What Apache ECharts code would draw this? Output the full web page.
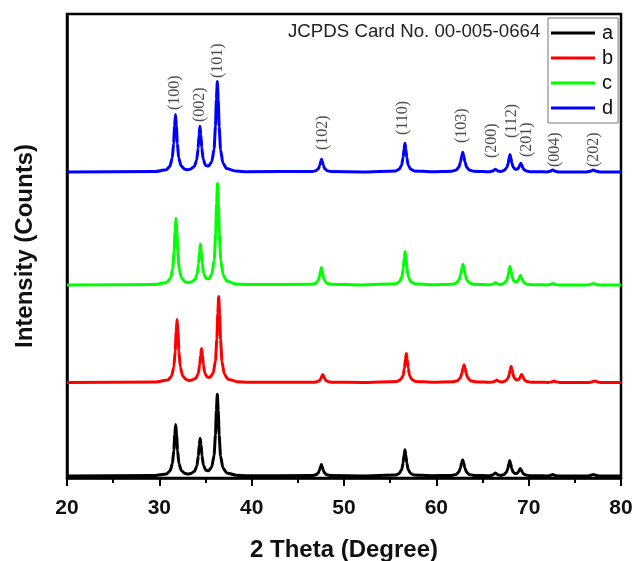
<!DOCTYPE html>
<html>
<head>
<meta charset="utf-8">
<title>XRD patterns</title>
<script src="https://cdn.jsdelivr.net/npm/echarts@6/dist/echarts.min.js"></script>
<style>
  html, body { margin: 0; padding: 0; background: #fff; }
  #chart { width: 636px; height: 561px; }
</style>
</head>
<body>
<div id="chart"></div>
<script>
// Sample names shown in the legend
const sampleNames = ['a', 'b', 'c', 'd'];
const sampleColors = ['#000000', '#ff0000', '#00ff00', '#0000ff'];

// Vertical offsets used to stack the four patterns (a.u.)
const stackOffsets = [0, 93.5, 191, 304];

// Measured profiles: [2θ (degree), intensity (a.u.)]
const profileA = [
  [20, 2], [29.5, 2.5],
  [30.77, 4.0], [31.17, 7.2], [31.42, 14.7], [31.57, 27.8], [31.67, 43.2], [31.77, 53.5], [31.87, 43.2], [31.97, 27.8], [32.12, 14.7], [32.37, 7.5], [32.77, 4.5],
  [33.1, 3.9],
  [33.42, 4.5], [33.82, 6.8], [34.07, 12.2], [34.22, 21.8], [34.32, 33], [34.42, 39.8], [34.52, 33.4], [34.62, 22.2], [34.77, 13], [35.02, 7.8],
  [35.35, 7.3],
  [35.68, 11.1], [35.93, 22.7], [36.08, 43.4], [36.18, 67.8], [36.28, 83.8], [36.38, 67.4], [36.48, 42.9], [36.63, 22.1], [36.88, 10.2], [37.28, 5.1], [38.3, 2.8], [39.5, 2.3],
  [46.55, 2.4], [46.95, 3.2], [47.2, 4.8], [47.35, 7.8], [47.45, 11.2], [47.55, 13.5], [47.65, 11.2], [47.75, 7.8], [47.9, 4.8], [48.15, 3.2], [48.55, 2.4],
  [52, 2.1],
  [55.6, 3.0], [56.0, 4.6], [56.25, 8.5], [56.4, 15.1], [56.5, 23], [56.6, 28.2], [56.7, 23], [56.8, 15.1], [56.95, 8.5], [57.2, 4.6], [57.6, 3.0],
  [59.5, 2.3],
  [61.65, 2.6], [62.15, 3.6], [62.43, 6.0], [62.61, 10.1], [62.73, 15], [62.85, 18.2], [62.97, 15], [63.09, 10.1], [63.27, 6.0], [63.55, 3.6], [64.05, 2.6],
  [65.0, 2.4],
  [65.8, 2.3], [66.15, 3.2], [66.28, 4.2], [66.4, 5], [66.52, 4.2], [66.65, 3.2], [67.0, 2.5],
  [67.35, 3.6], [67.6, 5.9], [67.75, 9.7], [67.85, 14.3], [67.95, 17.4], [68.05, 14.5], [68.15, 9.9], [68.3, 6.1], [68.52, 4.4],
  [68.75, 4.7], [68.9, 6.2], [69.0, 8.3], [69.1, 9.6], [69.2, 8.1], [69.3, 5.9], [69.45, 4.0], [69.7, 2.9], [70.1, 2.3],
  [71.0, 2.2],
  [72.0, 2.1], [72.35, 2.6], [72.6, 3.5], [72.85, 2.6], [73.2, 2.1],
  [74.8, 2.0],
  [76.3, 2.1], [76.7, 2.6], [77.0, 3.5], [77.3, 2.6], [77.7, 2.1], [80, 2]
];

const profileB = [
  [20, 2], [29.6, 2.5],
  [30.92, 4.4], [31.32, 8.3], [31.57, 17.5], [31.72, 33.5], [31.82, 52.4], [31.92, 65], [32.02, 52.4], [32.12, 33.5], [32.27, 17.5], [32.52, 8.6], [32.92, 4.9],
  [33.25, 4.0],
  [33.57, 4.6], [33.97, 6.3], [34.22, 11.1], [34.37, 19.4], [34.47, 29.3], [34.57, 36], [34.67, 29.5], [34.77, 19.8], [34.92, 11.6], [35.17, 7.4],
  [35.5, 7.2],
  [35.83, 11.4], [36.08, 23.7], [36.23, 45.4], [36.33, 71.1], [36.43, 88], [36.53, 70.8], [36.63, 45], [36.78, 23.2], [37.03, 10.6], [37.43, 5.3], [38.45, 2.8], [39.65, 2.3],
  [46.7, 2.3], [47.1, 2.8], [47.35, 4], [47.5, 6], [47.6, 8.4], [47.7, 10], [47.8, 8.4], [47.9, 6], [48.05, 4], [48.3, 2.8], [48.7, 2.3],
  [52, 2.1],
  [55.75, 3.1], [56.15, 4.9], [56.4, 9.1], [56.55, 16.5], [56.65, 25.2], [56.75, 31], [56.85, 25.2], [56.95, 16.5], [57.1, 9.1], [57.35, 4.9], [57.75, 3.1],
  [59.6, 2.3],
  [61.8, 2.7], [62.3, 3.8], [62.58, 6.4], [62.76, 10.9], [62.88, 16.2], [63.0, 19.7], [63.12, 16.2], [63.24, 10.9], [63.42, 6.4], [63.7, 3.8], [64.2, 2.7],
  [65.1, 2.4],
  [65.95, 2.3], [66.3, 3], [66.43, 3.8], [66.55, 4.5], [66.67, 3.8], [66.8, 3], [67.15, 2.5],
  [67.5, 3.7], [67.75, 6.0], [67.9, 10.2], [68.0, 15.0], [68.1, 18.2], [68.2, 15.1], [68.3, 10.4], [68.45, 6.4], [68.67, 4.6],
  [68.9, 4.9], [69.05, 6.5], [69.15, 8.8], [69.25, 10.1], [69.35, 8.5], [69.45, 6.2], [69.6, 4.1], [69.85, 2.9], [70.25, 2.3],
  [71.1, 2.2],
  [72.15, 2.1], [72.5, 2.6], [72.75, 3.5], [73.0, 2.6], [73.35, 2.1],
  [74.9, 2.0],
  [76.45, 2.1], [76.85, 2.6], [77.15, 3.5], [77.45, 2.6], [77.85, 2.1], [80, 2]
];

const profileC = [
  [20, 2], [29.5, 2.5],
  [30.8, 4.5], [31.2, 8.7], [31.45, 18.4], [31.6, 35.4], [31.7, 55.4], [31.8, 68.8], [31.9, 55.4], [32.0, 35.4], [32.15, 18.4], [32.4, 9.1], [32.8, 5.1],
  [33.12, 4.4],
  [33.45, 5.0], [33.85, 7.3], [34.1, 13], [34.25, 23.2], [34.35, 35], [34.45, 43], [34.55, 35.2], [34.65, 23.6], [34.8, 13.8], [35.05, 8.5],
  [35.37, 8.2],
  [35.7, 13.2], [35.95, 27.6], [36.1, 53.4], [36.2, 83.8], [36.3, 103.8], [36.4, 83.4], [36.5, 52.9], [36.65, 27], [36.9, 12.2], [37.3, 5.9], [38.3, 3.0], [39.5, 2.4],
  [46.55, 2.7], [46.95, 3.8], [47.2, 6.3], [47.35, 10.8], [47.45, 16], [47.55, 19.5], [47.65, 16], [47.75, 10.8], [47.9, 6.3], [48.15, 3.8], [48.55, 2.7],
  [52, 2.1],
  [55.62, 3.3], [56.02, 5.4], [56.27, 10.2], [56.42, 18.8], [56.52, 28.8], [56.62, 35.5], [56.72, 28.8], [56.82, 18.8], [56.97, 10.2], [57.22, 5.4], [57.62, 3.3],
  [59.5, 2.3],
  [61.68, 2.8], [62.18, 4.1], [62.46, 7.1], [62.64, 12.4], [62.76, 18.6], [62.88, 22.8], [63.0, 18.6], [63.12, 12.4], [63.3, 7.1], [63.58, 4.1], [64.08, 2.8],
  [65.0, 2.4],
  [65.82, 2.3], [66.17, 3], [66.3, 3.8], [66.42, 4.5], [66.54, 3.8], [66.67, 3], [67.02, 2.5],
  [67.38, 4.0], [67.63, 6.7], [67.78, 11.4], [67.88, 17.0], [67.98, 20.7], [68.08, 17.2], [68.18, 11.7], [68.33, 7.0], [68.55, 5.0],
  [68.77, 5.4], [68.92, 7.4], [69.02, 10.0], [69.12, 11.7], [69.22, 9.8], [69.32, 7.0], [69.47, 4.6], [69.72, 3.1], [70.12, 2.4],
  [71.0, 2.2],
  [72.0, 2.1], [72.35, 2.6], [72.6, 3.5], [72.85, 2.6], [73.2, 2.1],
  [74.8, 2.0],
  [76.3, 2.1], [76.7, 2.6], [77.0, 3.5], [77.3, 2.6], [77.7, 2.1], [80, 2]
];

const profileD = [
  [20, 2], [29.5, 2.5],
  [30.75, 4.2], [31.15, 7.8], [31.4, 16.1], [31.55, 30.8], [31.65, 48], [31.75, 59.5], [31.85, 48], [31.95, 30.8], [32.1, 16.1], [32.35, 8.2], [32.75, 4.8],
  [33.07, 4.3],
  [33.4, 5.0], [33.8, 7.6], [34.05, 14.1], [34.2, 25.5], [34.3, 38.9], [34.4, 47.8], [34.5, 39], [34.6, 25.9], [34.75, 14.7], [35.0, 8.6],
  [35.33, 7.9],
  [35.68, 12.2], [35.93, 25], [36.08, 47.8], [36.18, 74.8], [36.28, 92.5], [36.38, 74.4], [36.48, 47.25], [36.63, 24.3], [36.88, 11.05], [37.28, 5.4], [38.3, 2.9], [39.5, 2.3],
  [46.57, 2.5], [46.97, 3.3], [47.22, 5.2], [47.37, 8.4], [47.47, 12.2], [47.57, 14.8], [47.67, 12.2], [47.77, 8.4], [47.92, 5.2], [48.17, 3.3], [48.57, 2.5],
  [52, 2.1],
  [55.6, 3.1], [56.0, 4.9], [56.25, 9.1], [56.4, 16.4], [56.5, 25], [56.6, 30.8], [56.7, 25], [56.8, 16.4], [56.95, 9.1], [57.2, 4.9], [57.6, 3.1],
  [59.5, 2.3],
  [61.66, 2.8], [62.16, 4.0], [62.44, 6.9], [62.62, 11.9], [62.74, 17.8], [62.86, 21.8], [62.98, 17.8], [63.1, 11.9], [63.28, 6.9], [63.56, 4.0], [64.06, 2.8],
  [65.0, 2.4],
  [65.8, 2.3], [66.15, 3.1], [66.28, 4.0], [66.4, 4.8], [66.52, 4.0], [66.65, 3.1], [67.0, 2.5],
  [67.38, 3.8], [67.63, 6.3], [67.78, 10.7], [67.88, 15.9], [67.98, 19.4], [68.08, 16.1], [68.18, 10.9], [68.33, 6.7], [68.56, 4.7],
  [68.8, 5.0], [68.95, 6.8], [69.05, 9.1], [69.15, 10.7], [69.25, 9.0], [69.35, 6.5], [69.5, 4.3], [69.75, 3.0], [70.15, 2.3],
  [71.0, 2.2],
  [72.0, 2.1], [72.35, 2.8], [72.6, 4], [72.85, 2.8], [73.2, 2.1],
  [74.8, 2.0],
  [76.3, 2.1], [76.7, 2.8], [77.0, 4], [77.3, 2.8], [77.7, 2.1], [80, 2]
];

const profiles = [profileA, profileB, profileC, profileD];

// Miller indices of the reflections and where their tags sit ([2θ, a.u.] of the tag foot)
const hklTags = ['(100)', '(002)', '(101)', '(102)', '(110)', '(103)', '(200)', '(112)', '(201)', '(004)', '(202)'];
const hklTagTheta = [31.72, 34.4, 36.3, 47.65, 56.4, 62.75, 66.05, 68.15, 69.8, 72.85, 77.1];
const hklTagLevel = [368, 356, 400, 328, 343, 335, 320, 340, 321, 311, 311];

// X axis ticks
const thetaMin = 20;
const thetaMax = 80;
const thetaStep = 10;

const cardNote = 'JCPDS Card No. 00-005-0664';

const chart = echarts.init(document.getElementById('chart'), null, { renderer: 'canvas' });

const lineSeries = profiles.map((p, i) => ({
  name: sampleNames[i],
  type: 'line',
  data: p.map(([t, v]) => [t, v + stackOffsets[i]]),
  showSymbol: false,
  symbol: 'none',
  smooth: 0.2,
  smoothMonotone: 'x',
  lineStyle: { color: sampleColors[i], width: 3 },
  itemStyle: { color: sampleColors[i] },
  z: 2 + i,
  silent: true,
  animation: false
}));

const tagSeries = {
  type: 'scatter',
  data: hklTags.map((t, i) => ({ value: [hklTagTheta[i], hklTagLevel[i]], name: t })),
  symbolSize: 0,
  silent: true,
  animation: false,
  label: {
    show: true,
    position: 'top',
    distance: 0,
    rotate: 90,
    align: 'left',
    verticalAlign: 'middle',
    formatter: (p) => p.name,
    fontFamily: '"Liberation Serif", "Times New Roman", serif',
    fontSize: 16,
    color: '#222'
  },
  z: 10
};

chart.setOption({
  backgroundColor: '#ffffff',
  animation: false,
  grid: {
    left: 67, right: 15, top: 14, bottom: 83,
    outerBoundsMode: 'none',
    containLabel: false,
    show: true,
    borderColor: '#000',
    borderWidth: 2.5,
    backgroundColor: 'transparent'
  },
  legend: {
    data: sampleNames,
    orient: 'vertical',
    left: 548,
    top: 18,
    icon: 'rect',
    itemWidth: 44,
    itemHeight: 3,
    itemGap: 3,
    padding: [4, 5, 4, 3],
    borderColor: '#777',
    borderWidth: 1,
    backgroundColor: '#fff',
    selectedMode: false,
    textStyle: {
      fontFamily: '"Liberation Sans", Arial, sans-serif',
      fontSize: 20,
      lineHeight: 22,
      color: '#111',
      padding: [0, 0, 0, 2]
    }
  },
  xAxis: {
    type: 'value',
    min: thetaMin,
    max: thetaMax,
    interval: thetaStep,
    name: '2 Theta (Degree)',
    nameLocation: 'middle',
    nameGap: 60,
    nameTextStyle: {
      fontFamily: '"Liberation Sans", Arial, sans-serif',
      fontWeight: 'bold',
      fontSize: 24,
      color: '#111'
    },
    axisLine: { show: true, onZero: false, lineStyle: { color: '#000', width: 2.5 } },
    axisTick: { show: true, inside: false, length: 8, lineStyle: { color: '#000', width: 2 } },
    minorTick: { show: true, splitNumber: 2, length: 5, lineStyle: { color: '#000', width: 2 } },
    axisLabel: {
      margin: 20,
      fontFamily: '"Liberation Sans", Arial, sans-serif',
      fontWeight: 'bold',
      fontSize: 21,
      color: '#111'
    },
    splitLine: { show: false }
  },
  yAxis: {
    type: 'value',
    min: 0,
    max: 464,
    name: 'Intensity (Counts)',
    nameLocation: 'middle',
    nameGap: 30,
    nameTextStyle: {
      fontFamily: '"Liberation Sans", Arial, sans-serif',
      fontWeight: 'bold',
      fontSize: 24,
      color: '#111'
    },
    axisLine: { show: true, lineStyle: { color: '#000', width: 2.5 } },
    axisTick: { show: false },
    axisLabel: { show: false },
    splitLine: { show: false }
  },
  graphic: [{
    type: 'text',
    left: 288,
    top: 22,
    silent: true,
    style: {
      text: cardNote,
      fontFamily: '"Liberation Sans", Arial, sans-serif',
      fontSize: 18.7,
      fill: '#222'
    },
    z: 20
  }],
  series: [...lineSeries, tagSeries]
});
</script>
</body>
</html>
